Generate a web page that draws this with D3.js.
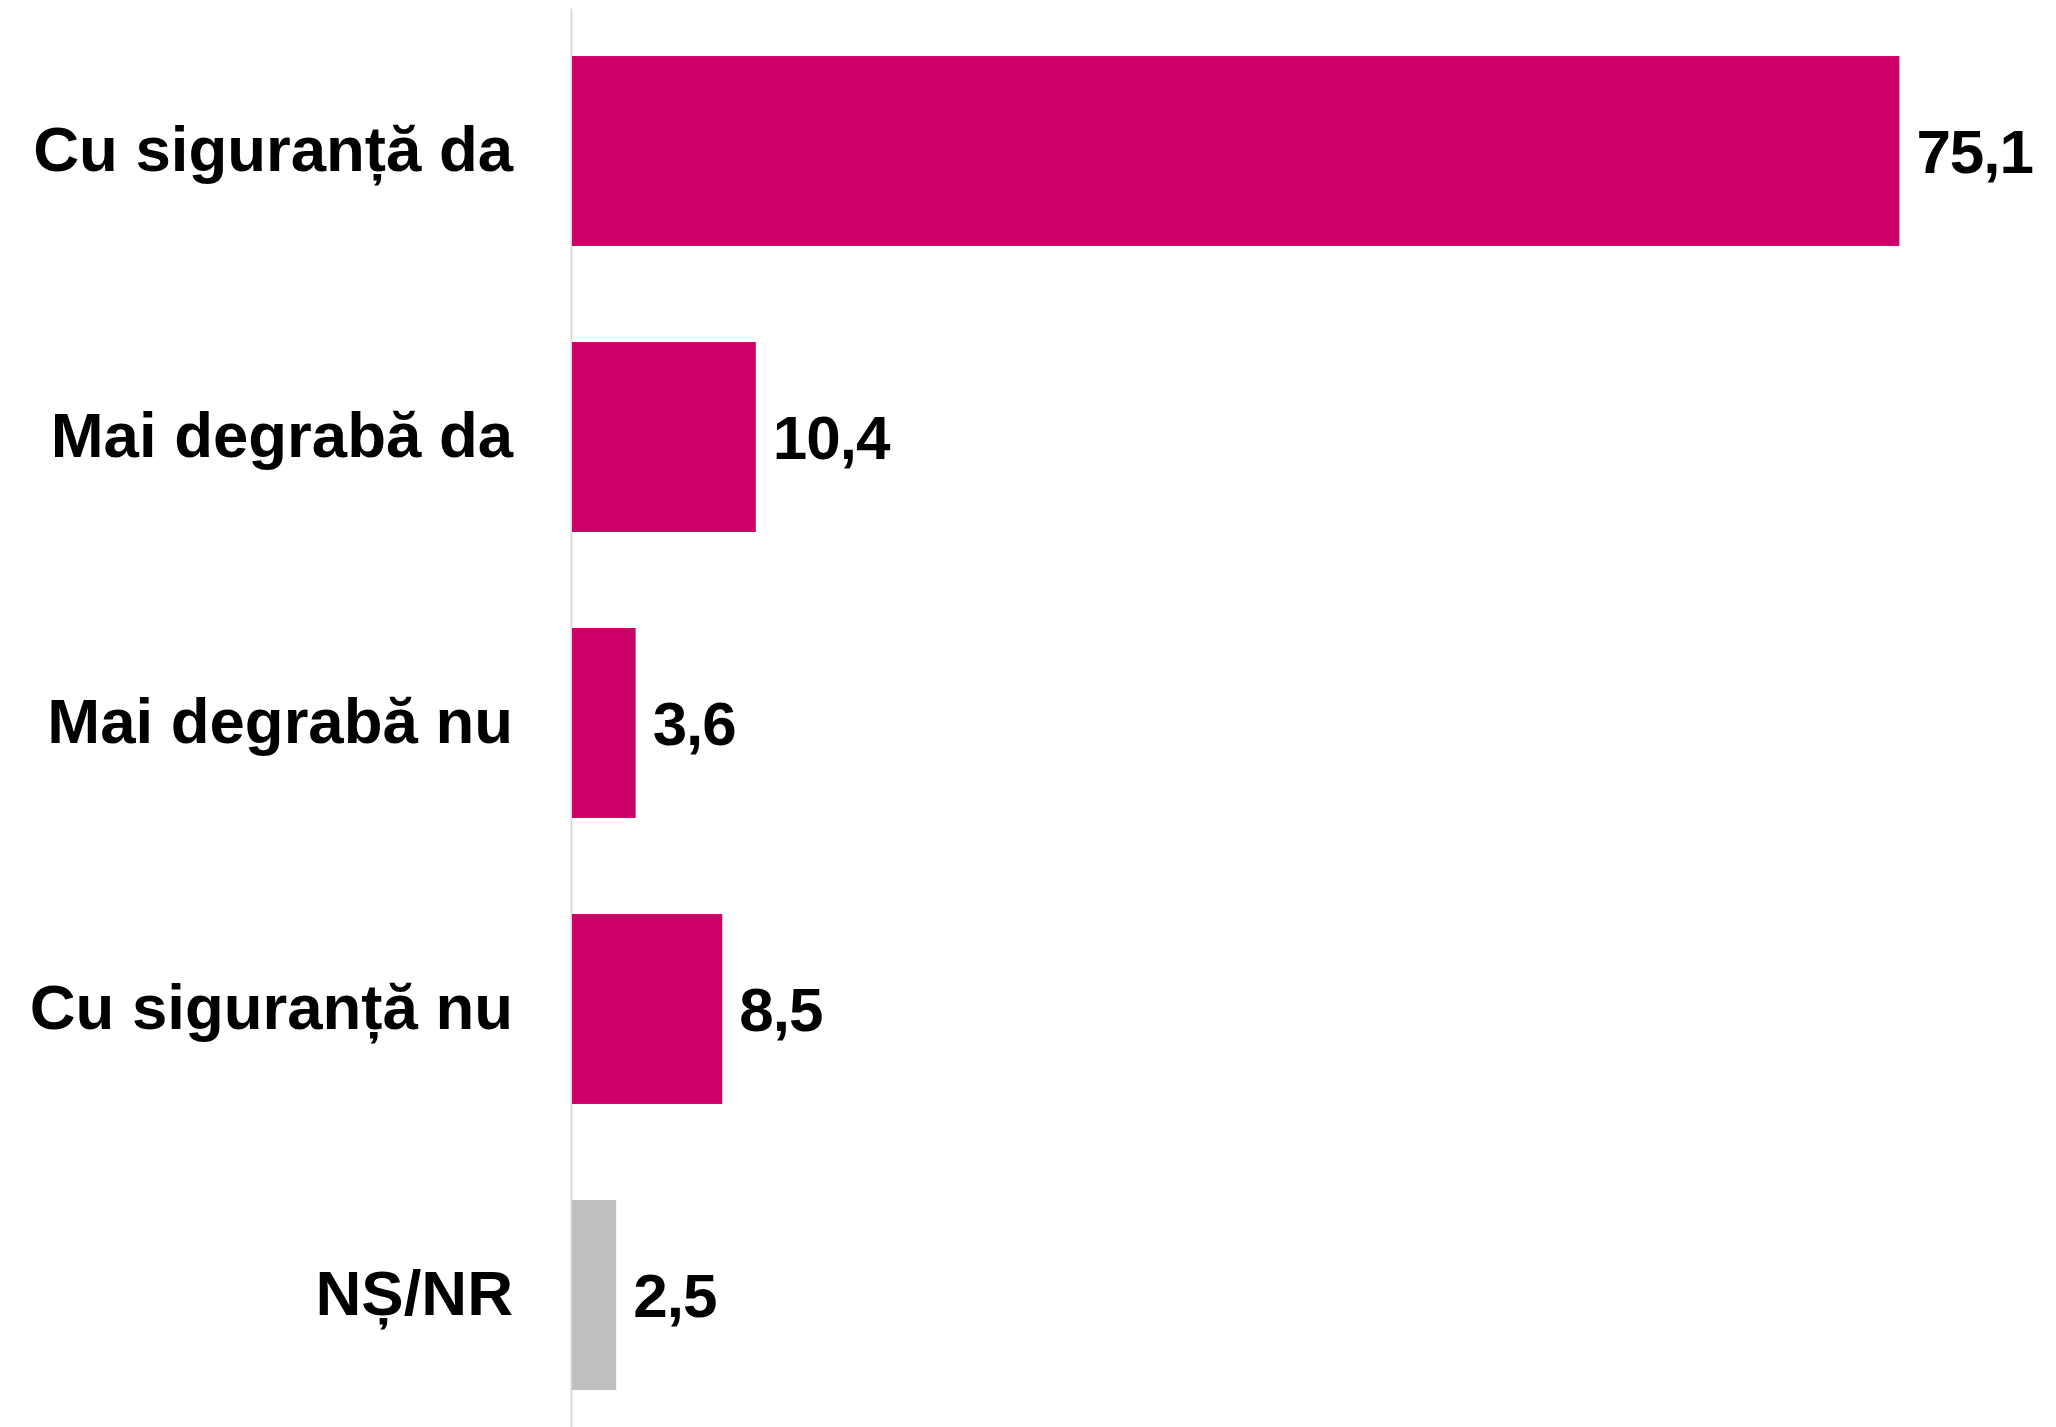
<!DOCTYPE html>
<html lang="ro">
<head>
    <meta charset="UTF-8">
    <title>Bar chart</title>
    <script src="https://d3js.org/d3.v7.min.js"></script>
    <style>
        body { margin: 0; background: #fff; }
        text { font-family: "Liberation Sans", Arial, sans-serif; font-weight: bold; }
    </style>
</head>
<body>
    <div id="my_dataviz"></div>

    <script>

    // data
    var categories = ["Cu siguranță da", "Mai degrabă da", "Mai degrabă nu", "Cu siguranță nu", "NȘ/NR"]
    var values = [75.1, 10.4, 3.6, 8.5, 2.5]
    var barColors = ["#cc0066", "#cc0066", "#cc0066", "#cc0066", "#bfbfbf"]

    var width = 2056,
        height = 1427

    var svg = d3.select("#my_dataviz")
      .append("svg")
        .attr("width", width)
        .attr("height", height)

    var x0 = 572

    // X scale
    var x = d3.scaleLinear()
        .domain([0, 80])
        .range([x0, 1986])

    // Y scale
    var y = d3.scaleBand()
        .domain(categories)
        .range([8, 1438])
        .paddingInner(0.336)
        .paddingOuter(0.168)

    // category axis
    var yAxis = svg.append("g")
        .attr("transform", "translate(" + (x0 - 1) + ",0)")
        .call(d3.axisLeft(y).tickSize(0).tickPadding(58))
    yAxis.select(".domain")
        .attr("stroke", "#d9d9d9")
        .attr("stroke-width", 2)
    yAxis.selectAll("text")
        .style("font-size", "63.5px")
        .style("font-family", "'Liberation Sans', Arial, sans-serif")
        .style("font-weight", "bold")
        .attr("fill", "#000")

    // bars
    svg.selectAll(".bar")
        .data(values)
        .enter()
        .append("rect")
            .attr("class", "bar")
            .attr("x", x(0))
            .attr("y", function(d, i) { return y(categories[i]) })
            .attr("width", function(d) { return x(d) - x(0) })
            .attr("height", y.bandwidth())
            .attr("fill", function(d, i) { return barColors[i] })

    // value labels
    svg.selectAll(".val")
        .data(values)
        .enter()
        .append("text")
            .attr("class", "val")
            .attr("x", function(d) { return x(d) + 17 })
            .attr("y", function(d, i) { return y(categories[i]) + y.bandwidth() / 2 })
            .attr("dy", "0.35em")
            .style("font-size", "62px")
            .style("letter-spacing", "-1px")
            .attr("fill", "#000")
            .text(function(d) { return d.toFixed(1).replace(".", ",") })

    </script>
</body>
</html>
